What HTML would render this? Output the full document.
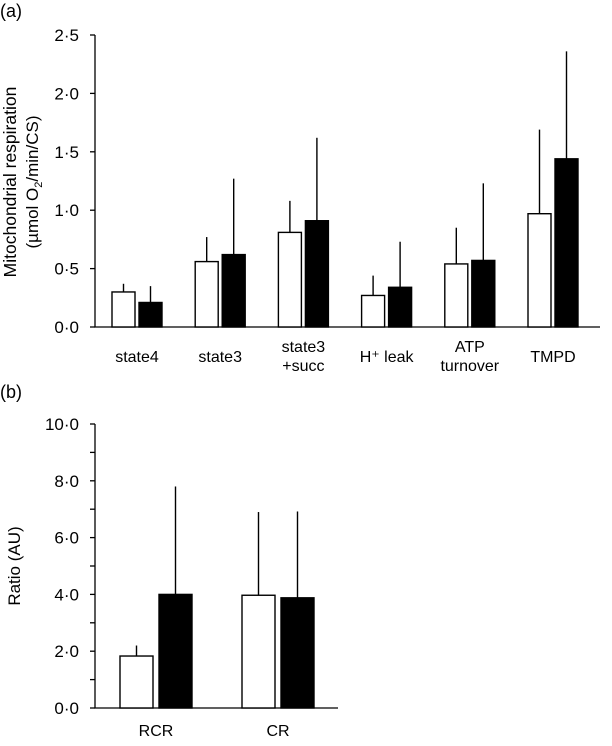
<!DOCTYPE html>
<html><head><meta charset="utf-8"><style>
body{margin:0;background:#fff;}
svg text{font-family:"Liberation Sans",sans-serif;fill:#000;}
</style></head><body>
<svg id="c" width="612" height="741" xmlns="http://www.w3.org/2000/svg"></svg>
<script>
const catsA=["state4","state3","state3\n+succ","H\u207A leak","ATP\nturnover","TMPD"];
const whiteA=[0.30,0.56,0.81,0.27,0.54,0.97];
const blackA=[0.21,0.62,0.91,0.34,0.57,1.44];
const whiteErrA=[0.37,0.77,1.08,0.44,0.85,1.69];
const blackErrA=[0.35,1.27,1.62,0.73,1.23,2.36];
const ticksA=["0·0","0·5","1·0","1·5","2·0","2·5"];
const catsB=["RCR","CR"];
const whiteB=[1.83,3.97];
const blackB=[4.0,3.88];
const whiteErrB=[2.2,6.9];
const blackErrB=[7.8,6.92];
const ticksB=["0·0","2·0","4·0","6·0","8·0","10·0"];

const svg=document.getElementById('c');
const NS="http://www.w3.org/2000/svg";
function el(t,a,p){const e=document.createElementNS(NS,t);for(const k in a)e.setAttribute(k,a[k]);(p||svg).appendChild(e);return e;}
function txt(s,x,y,anchor,size,p){const e=el('text',{x:x,y:y,'text-anchor':anchor,'font-size':size},p);e.textContent=s;return e;}

function panel(cfg){
  const g=el('g',{});
  
  
  const ya=v=>cfg.y0-(v/cfg.max)*(cfg.y0-cfg.yTop);
  const xa=i=>cfg.x0+cfg.first+i*cfg.step;
  const ax=el('path',{d:`M${cfg.x0},${cfg.yTop} V${cfg.y0} H${cfg.xEnd}`,stroke:'#000','stroke-width':1.3,fill:'none'},g);
  
  
  cfg.ticks.forEach((t,i)=>{
    const v=i*cfg.max/(cfg.ticks.length-1);
    el('line',{x1:cfg.x0-5,x2:cfg.x0,y1:ya(v),y2:ya(v),stroke:'#000','stroke-width':1.3},g);
    const l=txt(t,cfg.x0-16,ya(v)+6,'end',17,g);
    
    
    if(cfg.minor&&i<cfg.ticks.length-1){const m=v+cfg.max/(cfg.ticks.length-1)/2;
      el('line',{x1:cfg.x0-5,x2:cfg.x0,y1:ya(m),y2:ya(m),stroke:'#000','stroke-width':1.3},g);}
  });
  cfg.cats.forEach((c,i)=>{
    const xc=xa(i);
    [[cfg.w[i],cfg.we[i],'#fff',-1],[cfg.b[i],cfg.be[i],'#000',1]].forEach(([v,e,f,s])=>{
      const bx=s<0?xc-cfg.gap/2-cfg.bw:xc+cfg.gap/2;
      const mid=bx+cfg.bw/2;
      const eb=el('line',{x1:mid,x2:mid,y1:ya(v),y2:ya(e),stroke:'#000','stroke-width':1.4},g);
      
      
      const r=el('rect',{x:bx,y:ya(v),width:cfg.bw,height:cfg.y0-ya(v),fill:f,stroke:'#000','stroke-width':1.4},g);
      
      
    });
    const lines=c.split("\n");
    lines.forEach((ln,j)=>{
      const yy=lines.length>1?cfg.y0+25+j*19:cfg.y0+cfg.lblOff;
      const l=txt(ln,xc,yy,'middle',16,g);
      
      
    });
  });
}
panel({name:'panel-a',cats:catsA,w:whiteA,b:blackA,we:whiteErrA,be:blackErrA,ticks:ticksA,max:2.5,
  x0:95,xEnd:600,y0:327,yTop:35,first:42,step:83.2,bw:23,gap:4,minor:false,lblOff:35});
panel({name:'panel-b',cats:catsB,w:whiteB,b:blackB,we:whiteErrB,be:blackErrB,ticks:ticksB,max:10,
  x0:95,xEnd:338,y0:708,yTop:424,first:61,step:122,bw:33,gap:6,minor:true,lblOff:28});

let t=txt('(a)',0,17,'start',18);


t=txt('(b)',0,398,'start',18);


const yt=el('text',{transform:'translate(16,182) rotate(-90)','text-anchor':'middle','font-size':17.5});
yt.textContent='Mitochondrial respiration';


const yt2=el('text',{transform:'translate(38,182) rotate(-90)','text-anchor':'middle','font-size':17});
yt2.innerHTML='(µmol O<tspan font-size="11" dy="4">2</tspan><tspan dy="-4">/min/CS)</tspan>';


const yb=el('text',{transform:'translate(20,566) rotate(-90)','text-anchor':'middle','font-size':17});
yb.textContent='Ratio (AU)';


</script>
</body></html>
